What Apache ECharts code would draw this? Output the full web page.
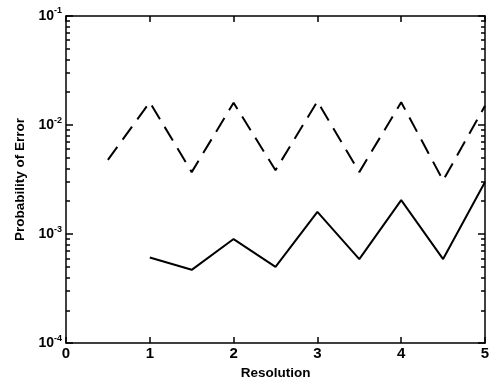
<!DOCTYPE html>
<html><head><meta charset="utf-8">
<script src="https://cdn.jsdelivr.net/npm/echarts@6/dist/echarts.min.js"></script>
<style>html,body{margin:0;padding:0;background:#fff}#c{width:495px;height:385px}</style>
</head><body><div id="c"></div>
<script>
var xLabels = [0, 1, 2, 3, 4, 5];
var yTicks = [1e-4, 1e-3, 1e-2, 1e-1];
var dashedX = [0.5, 1, 1.5, 2, 2.5, 3, 3.5, 4, 4.5, 5];
var dashedY = [4.8e-3, 1.62e-2, 3.7e-3, 1.6e-2, 3.85e-3, 1.65e-2, 3.7e-3, 1.62e-2, 3.1e-3, 1.5e-2];
var solidX = [1, 1.5, 2, 2.5, 3, 3.5, 4, 4.5, 5];
var solidY = [6.1e-4, 4.7e-4, 9.0e-4, 5.0e-4, 1.6e-3, 5.9e-4, 2.05e-3, 5.9e-4, 3.0e-3];

function pair(xs, ys){ return xs.map(function(x,i){return [x, ys[i]];}); }
var font = 'Liberation Sans, Arial, sans-serif';
function yFmt(v){
  var e = Math.round(Math.log10(v));
  return '{b|10}{s|' + e + '}';
}
var rich = { b:{fontSize:14,fontWeight:'bold',fontFamily:font,color:'#000'}, s:{fontSize:9,fontWeight:'bold',fontFamily:font,color:'#000',verticalAlign:'bottom',padding:[0,0,10,0]} };
var chart = echarts.init(document.getElementById('c'));
var axisLineStyle = {color:'#000', width:1.5};
function yAxisDef(pos, withLabels){
  var a = {
    type:'log', logBase:10, min:yTicks[0], max:yTicks[yTicks.length-1], position:pos,
    axisLine:{show:true,onZero:false,lineStyle:axisLineStyle},
    axisTick:{show:true,inside:true,length:7,lineStyle:{color:'#000',width:1.5}},
    minorTick:{show:true,splitNumber:9,length:4,lineStyle:{color:'#000',width:1.5}},
    axisLabel:withLabels ? {formatter:yFmt,rich:rich,margin:4} : {show:false},
    splitLine:{show:false}
  };
  if (withLabels) {
    a.name = 'Probability of Error'; a.nameLocation = 'middle'; a.nameGap = 37; a.nameRotate = 90;
    a.nameTextStyle = {color:'#000',fontSize:13.5,fontWeight:'bold',fontFamily:font};
  }
  return a;
}
chart.setOption({
  animation:false,
  backgroundColor:'#fff',
  grid:{left:66,right:10,top:16,bottom:35},
  xAxis:[{
    type:'value', min:xLabels[0], max:xLabels[xLabels.length-1], interval:1, position:'bottom',
    axisLine:{show:true,onZero:false,lineStyle:axisLineStyle},
    axisTick:{show:true,inside:true,length:6,lineStyle:{color:'#000',width:1.5}},
    axisLabel:{color:'#000',fontSize:15,fontWeight:'bold',fontFamily:font,margin:3},
    splitLine:{show:false},
    name:'Resolution', nameLocation:'middle', nameGap:17,
    nameTextStyle:{color:'#000',fontSize:13.5,fontWeight:'bold',fontFamily:font}
  },{
    type:'value', min:xLabels[0], max:xLabels[xLabels.length-1], interval:1, position:'top',
    axisLine:{show:true,onZero:false,lineStyle:axisLineStyle},
    axisTick:{show:true,inside:true,length:6,lineStyle:{color:'#000',width:1.5}},
    axisLabel:{show:false}, splitLine:{show:false}
  }],
  yAxis:[yAxisDef('left', true), yAxisDef('right', false)],
  series:[{
    type:'line', data:pair(dashedX, dashedY), symbol:'none',
    lineStyle:{color:'#000',width:2,type:[16,9]}
  },{
    type:'line', data:pair(solidX, solidY), symbol:'none',
    lineStyle:{color:'#000',width:2}
  }]
});
</script></body></html>
